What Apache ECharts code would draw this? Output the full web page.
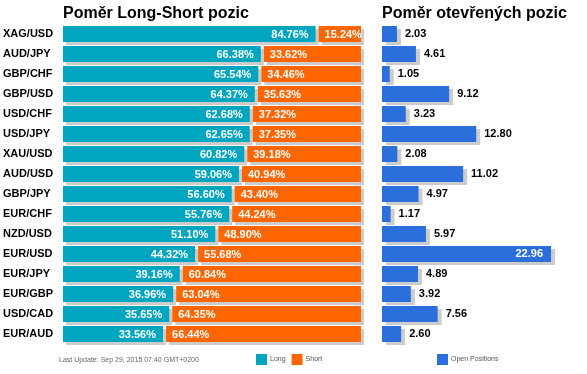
<!DOCTYPE html>
<html><head><meta charset="utf-8">
<script src="https://cdn.jsdelivr.net/npm/echarts@6/dist/echarts.min.js"></script>
<style>html,body{margin:0;padding:0;background:#fff}#c{width:587px;height:374px}</style>
</head><body><div id="c"></div>
<script>
var pairs = ['XAG/USD','AUD/JPY','GBP/CHF','GBP/USD','USD/CHF','USD/JPY','XAU/USD','AUD/USD','GBP/JPY','EUR/CHF','NZD/USD','EUR/USD','EUR/JPY','EUR/GBP','USD/CAD','EUR/AUD'];
var longPct = [84.76,66.38,65.54,64.37,62.68,62.65,60.82,59.06,56.60,55.76,51.10,44.32,39.16,36.96,35.65,33.56];
var shortPct = [15.24,33.62,34.46,35.63,37.32,37.35,39.18,40.94,43.40,44.24,48.90,55.68,60.84,63.04,64.35,66.44];
var openPos = [2.03,4.61,1.05,9.12,3.23,12.80,2.08,11.02,4.97,1.17,5.97,22.96,4.89,3.92,7.56,2.60];
var title1 = 'Poměr Long-Short pozic';
var title2 = 'Poměr otevřených pozic';
var footer = 'Last Update: Sep 29, 2015 07:40 GMT+0200';

var FONT = '"Liberation Sans", Arial, sans-serif';
var TEAL = '#00A5BF', ORANGE = '#FF6600', BLUE = '#2A6FDB', SHADOW = '#CCCCCC';
var BAR_H = 16, GAP = 3;

var chart = echarts.init(document.getElementById('c'), null, {renderer:'canvas'});

function shadowStyle(fill, ox){
  return {fill: fill, shadowColor: SHADOW, shadowOffsetX: ox, shadowOffsetY: 3, shadowBlur: 0};
}
function renderLong(params, api){
  var i = api.value(0), v = api.value(1);
  var s = api.coord([0, i]), e = api.coord([v, i]);
  return {type:'group', children:[
    {type:'rect', shape:{x:s[0], y:s[1]-BAR_H/2, width:e[0]-s[0], height:BAR_H}, style: shadowStyle(api.visual('color'), 3)},
    {type:'text', style:{text: v.toFixed(2)+'%', x:e[0]-7, y:s[1]+1, align:'right', verticalAlign:'middle', fill:'#fff', font:'bold 11px '+FONT}}
  ]};
}
function renderShort(params, api){
  var i = api.value(0), l = api.value(1), v = api.value(2);
  var s = api.coord([l, i]), e = api.coord([l+v, i]);
  var x0 = s[0] + GAP;
  return {type:'group', children:[
    {type:'rect', shape:{x:x0, y:s[1]-BAR_H/2, width:e[0]-x0, height:BAR_H}, style: shadowStyle(api.visual('color'), 3)},
    {type:'text', style:{text: v.toFixed(2)+'%', x:x0+6, y:s[1]+1, align:'left', verticalAlign:'middle', fill:'#fff', font:'bold 11px '+FONT}}
  ]};
}

var maxOpen = Math.max.apply(null, openPos);
var openData = openPos.map(function(v){
  if (v === maxOpen) {
    return {value:v, label:{position:'insideRight', color:'#fff', distance:8}};
  }
  return v;
});

chart.setOption({
  animation:false,
  title:[
    {text:title1, left:63, top:6, padding:0, textStyle:{fontSize:16, fontWeight:'bold', color:'#000', fontFamily:FONT}},
    {text:title2, left:382, top:6, padding:0, textStyle:{fontSize:16, fontWeight:'bold', color:'#000', fontFamily:FONT}},
    {text:footer, left:59, top:357, padding:0, textStyle:{fontSize:7, fontWeight:'normal', color:'#666', fontFamily:FONT}}
  ],
  legend:[
    {data:['Long','Short'], left:256, top:354, itemWidth:11, itemHeight:11, itemGap:6, icon:'rect', padding:0,
     textStyle:{fontSize:7, color:'#555', fontFamily:FONT, padding:[0,0,0,-2]}},
    {data:['Open Positions'], left:437, top:354, itemWidth:11, itemHeight:11, icon:'rect', padding:0,
     textStyle:{fontSize:7, color:'#555', fontFamily:FONT, padding:[0,0,0,-2]}}
  ],
  grid:[
    {left:63, top:24, width:298, height:320},
    {left:382, top:24, width:169, height:320}
  ],
  xAxis:[
    {gridIndex:0, type:'value', min:0, max:100, show:false},
    {gridIndex:1, type:'value', min:0, max:maxOpen, show:false}
  ],
  yAxis:[
    {gridIndex:0, type:'category', data:pairs, inverse:true, axisLine:{show:false}, axisTick:{show:false},
     axisLabel:{align:'left', margin:60, color:'#000', fontSize:11, fontWeight:'bold', fontFamily:FONT}},
    {gridIndex:1, type:'category', data:pairs, inverse:true, show:false}
  ],
  series:[
    {name:'Long', type:'custom', xAxisIndex:0, yAxisIndex:0, itemStyle:{color:TEAL},
     renderItem:renderLong, encode:{x:1, y:0},
     data: longPct.map(function(v,i){return [i, v];})},
    {name:'Short', type:'custom', xAxisIndex:0, yAxisIndex:0, itemStyle:{color:ORANGE},
     renderItem:renderShort, encode:{x:2, y:0},
     data: shortPct.map(function(v,i){return [i, longPct[i], v];})},
    {name:'Open Positions', type:'bar', xAxisIndex:1, yAxisIndex:1, barWidth:BAR_H,
     itemStyle:{color:BLUE, shadowColor:SHADOW, shadowOffsetX:4, shadowOffsetY:3, shadowBlur:0},
     label:{show:true, position:'right', distance:8, color:'#000', fontSize:11, fontWeight:'bold', fontFamily:FONT,
            formatter:function(p){return p.value.toFixed(2);}},
     data: openData}
  ]
});
</script></body></html>
